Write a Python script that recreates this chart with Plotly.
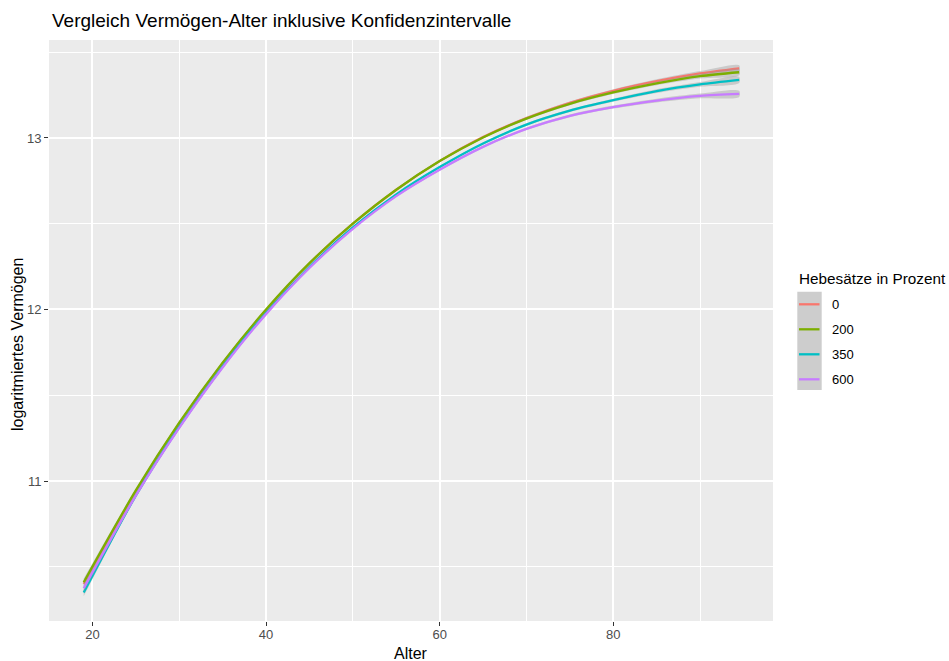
import plotly.graph_objects as go

# ---------------- data ----------------
alter = [19, 25, 30, 35, 40, 45, 50, 55, 60, 65, 70, 75, 80, 85, 90, 94.5]
hebesatz_labels = ["0", "200", "350", "600"]
verm_0 = [10.400, 10.937, 11.334, 11.685, 11.996, 12.268, 12.500, 12.698, 12.865,
          13.005, 13.116, 13.205, 13.275, 13.331, 13.376, 13.406]
verm_200 = [10.410, 10.945, 11.340, 11.690, 12.000, 12.270, 12.500, 12.698, 12.865,
            13.003, 13.113, 13.199, 13.265, 13.318, 13.360, 13.383]
verm_350 = [10.350, 10.915, 11.315, 11.668, 11.980, 12.248, 12.478, 12.671, 12.830,
            12.968, 13.078, 13.159, 13.220, 13.273, 13.312, 13.338]
verm_600 = [10.375, 10.915, 11.310, 11.662, 11.973, 12.242, 12.470, 12.661, 12.815,
            12.948, 13.053, 13.129, 13.180, 13.218, 13.245, 13.257]
ci_half = [0.022, 0.010, 0.007, 0.006, 0.005, 0.005, 0.005, 0.005, 0.006, 0.006,
           0.007, 0.008, 0.009, 0.011, 0.014, 0.018]

series = [verm_0, verm_200, verm_350, verm_600]
colors = ["#F8766D", "#7CAE00", "#00BFC4", "#C77CFF"]

FONT = "Liberation Sans, Arial, sans-serif"

fig = go.Figure()
for lab, vals, col in zip(hebesatz_labels, series, colors):
    upper = [v + h for v, h in zip(vals, ci_half)]
    lower = [v - h for v, h in zip(vals, ci_half)]
    fig.add_trace(go.Scatter(
        x=alter + alter[::-1], y=upper + lower[::-1],
        fill="toself", fillcolor="rgba(153,153,153,0.4)",
        line=dict(width=0, shape="spline", smoothing=0.8), mode="lines",
        hoverinfo="skip", showlegend=False))
    fig.add_trace(go.Scatter(
        x=alter, y=vals, mode="lines", name=lab,
        line=dict(color=col, width=2.3, shape="spline", smoothing=0.8),
        showlegend=False))

# ---------------- layout ----------------
L, R, T, B = 49, 176, 40, 40
W, H = 949, 661
PW, PH = W - L - R, H - T - B


def xp(px):
    return (px - L) / PW


def yp(py):
    return (H - B - py) / PH


fig.update_layout(
    width=W, height=H,
    margin=dict(l=L, r=R, t=T, b=B, pad=0),
    paper_bgcolor="white", plot_bgcolor="#EBEBEB",
    font=dict(family=FONT, color="#4D4D4D", size=13),
    showlegend=False,
    xaxis=dict(range=[15.0, 98.4], tickvals=[20, 40, 60, 80],
               showgrid=True, gridcolor="white", gridwidth=1.6,
               ticks="outside", ticklen=4, tickwidth=1, tickcolor="#333333",
               ticklabelstandoff=-3,
               tickfont=dict(size=13, color="#4D4D4D", family=FONT),
               zeroline=False, showline=False,
               minor=dict(tickvals=[30, 50, 70, 90], showgrid=True,
                          gridcolor="white", gridwidth=0.8, ticks="")),
    yaxis=dict(range=[10.184, 13.571], tickvals=[11, 12, 13],
               showgrid=True, gridcolor="white", gridwidth=1.6,
               ticks="outside", ticklen=4, tickwidth=1, tickcolor="#333333",
               tickfont=dict(size=13, color="#4D4D4D", family=FONT),
               zeroline=False, showline=False,
               minor=dict(tickvals=[10.5, 11.5, 12.5, 13.5], showgrid=True,
                          gridcolor="white", gridwidth=0.8, ticks="")),
)

annotations = [
    dict(text="Vergleich Vermögen-Alter inklusive Konfidenzintervalle",
         x=xp(50), y=yp(21), xref="paper", yref="paper",
         xanchor="left", yanchor="middle", showarrow=False,
         font=dict(size=19, color="black", family=FONT)),
    dict(text="Alter", x=xp(411), y=yp(653), xref="paper", yref="paper",
         xanchor="center", yanchor="middle", showarrow=False,
         font=dict(size=16, color="black", family=FONT)),
    dict(text="logaritmiertes Vermögen", x=xp(17), y=yp(345), xref="paper", yref="paper",
         xanchor="center", yanchor="middle", showarrow=False, textangle=-90,
         font=dict(size=16, color="black", family=FONT)),
    dict(text="Hebesätze in Prozent", x=xp(797), y=yp(278), xref="paper", yref="paper",
         xanchor="left", yanchor="middle", showarrow=False,
         font=dict(size=15.3, color="black", family=FONT)),
]

shapes = [dict(type="rect", xref="paper", yref="paper",
               x0=xp(797.3), x1=xp(821.7), y0=yp(390), y1=yp(291.7),
               fillcolor="#CDCDCD", line=dict(width=0), layer="above")]
key_y = [304.3, 329.3, 354.3, 379.3]
for lab, col, ky in zip(hebesatz_labels, colors, key_y):
    shapes.append(dict(type="line", xref="paper", yref="paper",
                       x0=xp(799), x1=xp(819.5), y0=yp(ky), y1=yp(ky),
                       line=dict(color=col, width=2.3), layer="above"))
    annotations.append(dict(text=lab, x=xp(829.5), y=yp(ky), xref="paper", yref="paper",
                            xanchor="left", yanchor="middle", showarrow=False,
                            font=dict(size=13, color="black", family=FONT)))

fig.update_layout(annotations=annotations, shapes=shapes)
fig.write_html("out.html")
